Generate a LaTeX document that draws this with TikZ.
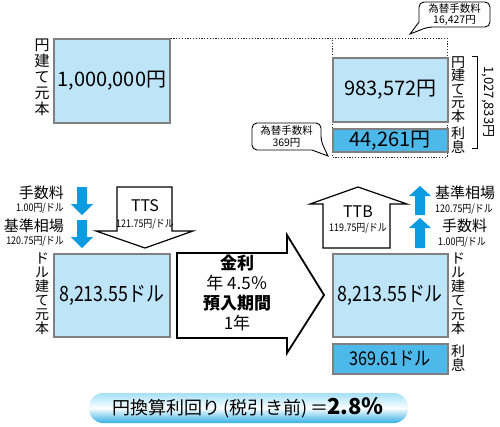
\documentclass[tikz,border=0pt]{standalone}
\usepackage{fontspec}
\setmainfont{Noto Sans CJK JP}
\newfontfamily\cond[FakeStretch=0.85]{Noto Sans CJK JP}
\definecolor{lb}{HTML}{BEE4F8}
\definecolor{db}{HTML}{4DB9EA}
\definecolor{bd}{HTML}{808080}
\definecolor{ab}{HTML}{0A9BE1}
\definecolor{pt}{HTML}{A5E0F7}
\definecolor{pb}{HTML}{35B0E5}
\definecolor{pm}{HTML}{FAFEFF}
\newcommand{\fs}[2]{\fontsize{#1}{#2}\selectfont}
\begin{document}
\begin{tikzpicture}[x=1pt,y=-1pt,
  valbox/.style={draw=bd, line width=1.5pt, fill=lb, inner sep=0, anchor=north west},
  intbox/.style={draw=bd, line width=1.5pt, fill=db, inner sep=0, anchor=north west},
  numtxt/.style={font=\fs{20}{20}, inner sep=0},
  vlab/.style={font=\fs{15}{16}, align=center, inner sep=0, anchor=north},
  vlabs/.style={font=\fs{14}{13.5}, align=center, inner sep=0, anchor=north},
  biglab/.style={font=\fs{15}{15}, inner sep=0},
  smalllab/.style={font=\cond\fs{10.5}{10.5}, inner sep=0},
  callout/.style={draw=black, line width=0.9pt, fill=white},
  calltxt/.style={font=\fs{10.5}{11.5}, align=center, inner sep=0},
  outarrow/.style={draw=black, line width=1.2pt, fill=white, line join=miter},
  dots/.style={dash pattern=on 1.2pt off 1.6pt, line width=1pt, draw=black!85},
  bluearr/.style={fill=ab}
]
\useasboundingbox (0,0) rectangle (500,426);

% ---------- top section ----------
\node[valbox, minimum width=116, minimum height=84] (b1) at (53,38) {};
\node[numtxt] (t1) at (b1.center) {1,000,000円};
\node[vlab] (l1) at (42,39) {円\\建\\て\\元\\本};

\coordinate (dtl) at (332,38);
\coordinate (dtr) at (447,38);
\coordinate (dbr) at (447,157);
\coordinate (dbl) at (332,157);
\draw[dots] (b1.north east) -- (dtl);
\draw[dots] (dtl) -- (dtr) -- (dbr) -- (dbl) -- cycle;

\node[valbox, minimum width=115, minimum height=64] (b2) at (332,57) {};
\node[numtxt] (t2) at (b2.center) {983,572円};
\node[intbox, minimum width=115, minimum height=23] (b3) at (332,128) {};
\node[numtxt] (t3) at (b3.center) {44,261円};

\node[vlabs] (l2) at (458,56) {円\\建\\て\\元\\本};
\node[vlabs] (l3) at (458,127) {利\\息};

\coordinate (brt) at (477,56);
\coordinate (brb) at (477,148);
\draw[line width=0.8pt] ([xshift=-5]brt) -- (brt) -- (brb) -- ([xshift=-5]brb);
\node[font=\fs{13}{13}, rotate=-90, inner sep=0] (tot) at (488,102) {1,027,833円};

% callouts
\draw[callout, rounded corners=5pt] (419,12) -- (419,2) -- (490,2) -- (490,27) -- (428,27)
  [sharp corners] -- (410,34) -- (419,22) -- cycle;
\node[calltxt] (c1) at (454.5,14.5) {為替手数料\\16,427円};
\draw[callout, rounded corners=5pt] (286,150) -- (252,150) -- (252,123) -- (321,123) -- (321,141)
  [sharp corners] -- (328,156) -- (312,150) -- cycle;
\node[calltxt] (c2) at (286.5,136.5) {為替手数料\\369円};

% ---------- lower section ----------
% left blue arrows
\fill[bluearr] (77,187) -- (87,187) -- (87,204) -- (93,204) -- (82,215) -- (71,204) -- (77,204) -- cycle;
\fill[bluearr] (77,220) -- (87,220) -- (87,237) -- (93,237) -- (82,248) -- (71,237) -- (77,237) -- cycle;
\node[biglab, anchor=east] (f1) at (64,193) {手数料};
\node[smalllab, anchor=east] (f2) at (64,208) {1.00円/ドル};
\node[biglab, anchor=east] (f3) at (64,226) {基準相場};
\node[smalllab, anchor=east] (f4) at (64,241) {120.75円/ドル};

% TTS arrow
\draw[outarrow] (117,187) -- (172,187) -- (172,231) -- (193,231) -- (145,248) -- (96,231) -- (117,231) -- cycle;
\node[font=\fs{16}{16}, inner sep=0] (tts) at (145,206) {TTS};
\node[smalllab] (ttsr) at (145,224) {121.75円/ドル};

\node[valbox, minimum width=116, minimum height=83] (b4) at (53,253) {};
\node[numtxt, font=\cond\fs{21}{21}] (t4) at (b4.center) {8,213.55ドル};
\node[vlab, font=\fs{14}{14}] (l4) at (42,253) {ド\\ル\\建\\て\\元\\本};

% middle big arrow
\draw[draw=black, line width=1.8pt, fill=white, line join=miter]
  (177,253) -- (287,253) -- (287,235) -- (324,295) -- (287,353) -- (287,338) -- (177,338) -- cycle;
\node[font=\bfseries\fs{17}{17}, inner sep=0] (m1) at (237,263) {金利};
\node[font=\fs{17}{17}, inner sep=0] (m2) at (237,283) {年 4.5％};
\node[font=\bfseries\fs{17}{17}, inner sep=0] (m3) at (237,303) {預入期間};
\node[font=\fs{17}{17}, inner sep=0] (m4) at (237,323) {1年};

% right
\node[valbox, minimum width=115, minimum height=83] (b5) at (332,253) {};
\node[numtxt, font=\cond\fs{21}{21}] (t5) at (b5.center) {8,213.55ドル};
\node[intbox, minimum width=115, minimum height=30] (b6) at (332,343) {};
\node[numtxt, font=\cond\fs{19}{19}] (t6) at (b6.center) {369.61ドル};
\node[vlab, font=\fs{14}{14}] (l5) at (458,253) {ド\\ル\\建\\て\\元\\本};
\node[vlab, font=\fs{14}{14}] (l6) at (458,345) {利\\息};

% TTB arrow
\draw[outarrow] (323,248) -- (390,248) -- (390,204) -- (407,204) -- (358,187) -- (310,204) -- (323,204) -- cycle;
\node[font=\fs{16}{16}, inner sep=0] (ttb) at (358,212) {TTB};
\node[smalllab] (ttbr) at (358,228) {119.75円/ドル};

% right blue arrows
\fill[bluearr] (415,215) -- (425,215) -- (425,196) -- (431,196) -- (420,186) -- (409,196) -- (415,196) -- cycle;
\fill[bluearr] (415,248) -- (425,248) -- (425,228) -- (431,228) -- (420,218) -- (409,228) -- (415,228) -- cycle;
\node[biglab, anchor=west] (g1) at (435,193) {基準相場};
\node[smalllab, anchor=west] (g2) at (435,209) {120.75円/ドル};
\node[biglab, anchor=west] (g3) at (442,226) {手数料};
\node[smalllab, anchor=west] (g4) at (438,242) {1.00円/ドル};

% bottom pill
\shade[rounded corners=14pt, top color=pt, bottom color=pb, middle color=pm] (89,393) rectangle (408,423);
\node[inner sep=0] (res) at (248,408) {\fs{18}{18}円換算利回り\,(税引き前)\,＝\hspace{-1pt}\bfseries\fs{22}{22}2.8％};
\end{tikzpicture}
\end{document}
